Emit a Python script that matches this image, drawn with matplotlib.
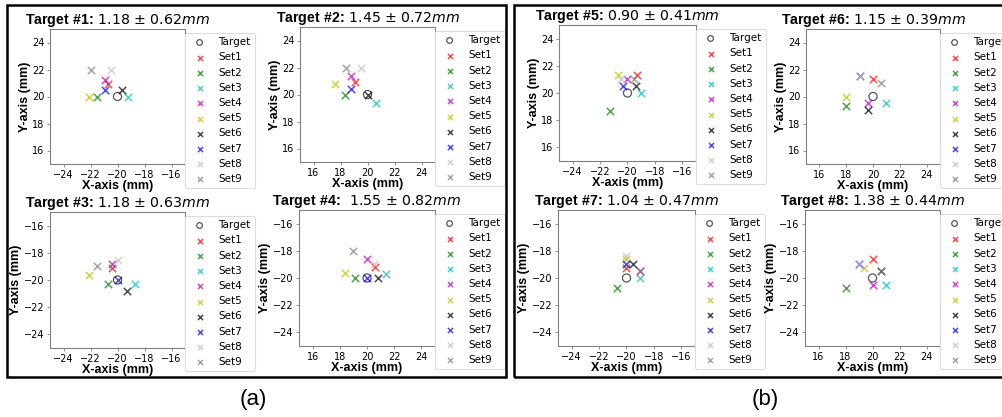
import matplotlib
matplotlib.use('Agg')
import matplotlib.pyplot as plt
from matplotlib.patches import Rectangle

plt.rcParams['font.family'] = 'DejaVu Sans'
plt.rcParams['mathtext.fontset'] = 'custom'
plt.rcParams['mathtext.rm'] = 'DejaVu Sans'
plt.rcParams['mathtext.it'] = 'DejaVu Sans:italic'
plt.rcParams['mathtext.bf'] = 'Liberation Sans:bold'

# measured hit positions per target (Set1..Set9)
set_names = ['Set1', 'Set2', 'Set3', 'Set4', 'Set5', 'Set6', 'Set7', 'Set8', 'Set9']
set_colors = ['r', 'g', 'c', 'm', 'y', 'k', 'b', 'silver', 'gray']

target_x = [-20, 20, -20, 20, -20, 20, -20, 20]
target_y = [20, 20, -20, -20, 20, 20, -20, -20]

t1_x = [-20.7, -21.5, -19.2, -20.9, -22.1, -19.7, -20.9, -20.5, -22.0]
t1_y = [20.9, 20.0, 20.0, 21.2, 20.0, 20.5, 20.5, 22.0, 22.0]
t2_x = [19.1, 18.3, 20.6, 18.8, 17.6, 20.0, 18.8, 19.5, 18.4]
t2_y = [20.9, 20.0, 19.4, 21.4, 20.8, 20.0, 20.4, 22.0, 22.0]
t3_x = [-20.4, -20.7, -18.7, -20.4, -22.1, -19.3, -20.0, -20.0, -21.5]
t3_y = [-19.1, -20.3, -20.3, -18.8, -19.6, -20.8, -20.0, -18.5, -19.0]
t4_x = [20.6, 19.1, 21.4, 20.0, 18.4, 20.8, 20.0, 20.5, 19.0]
t4_y = [-19.2, -20.0, -19.7, -18.6, -19.6, -20.0, -20.0, -19.0, -18.0]
t5_x = [-19.3, -21.3, -19.0, -20.0, -20.7, -19.4, -20.3, -20.5, -19.5]
t5_y = [21.3, 18.7, 20.0, 21.0, 21.3, 20.5, 20.5, 21.0, 21.0]
t6_x = [20.0, 18.0, 21.0, 19.6, 18.0, 19.6, 19.0, 19.0, 20.6]
t6_y = [21.3, 19.3, 19.5, 19.5, 20.0, 19.0, 21.5, 21.5, 21.0]
t7_x = [-20.0, -20.7, -19.0, -19.0, -20.0, -19.5, -20.0, -20.0, -19.0]
t7_y = [-19.3, -20.7, -20.0, -19.5, -18.6, -19.0, -19.0, -18.4, -19.5]
t8_x = [20.0, 18.0, 21.0, 20.0, 19.4, 20.6, 19.0, 19.0, 20.6]
t8_y = [-18.6, -20.7, -20.5, -20.5, -19.3, -19.5, -19.0, -19.0, -19.5]

all_x = [t1_x, t2_x, t3_x, t4_x, t5_x, t6_x, t7_x, t8_x]
all_y = [t1_y, t2_y, t3_y, t4_y, t5_y, t6_y, t7_y, t8_y]

err_mean = ['1.18', '1.45', '1.18', '1.55', '0.90', '1.15', '1.04', '1.38']
err_std = ['0.62', '0.72', '0.63', '0.82', '0.41', '0.39', '0.47', '0.44']

W, H = 1003, 417
fig = plt.figure(figsize=(W / 100, H / 100), dpi=100)

# axes boxes in pixels: left, top, right, bottom
boxes = [(50, 29, 185, 164), (300, 27, 435, 162), (50, 212, 185, 348), (299, 210, 435, 346),
         (559, 25, 696, 161), (806, 29, 940, 164), (558, 210, 695, 346), (805, 210, 940, 346)]

for i in range(8):
    l, t, r, b = boxes[i]
    ax = fig.add_axes([l / W, 1 - b / H, (r - l) / W, (b - t) / H])
    ax.scatter([target_x[i]], [target_y[i]], s=34, marker='o', facecolors='none',
               edgecolors='#555555', linewidths=0.9, label='Target')
    for k in range(9):
        ax.scatter([all_x[i][k]], [all_y[i][k]], s=28, marker='x', color=set_colors[k],
                   alpha=0.7, linewidths=1.1, label=set_names[k])
    cx, cy = target_x[i], target_y[i]
    ax.set_xlim(cx - 5, cx + 5)
    ax.set_ylim(cy - 5, cy + 5)
    ax.set_xticks(range(cx - 4, cx + 5, 2))
    ax.set_yticks(range(cy - 4, cy + 5, 2))
    ax.tick_params(labelsize=7, length=2.5, width=0.6, color='gray', pad=1.5)
    for sp in ax.spines.values():
        sp.set_color('gray')
        sp.set_linewidth(0.8)
    ax.set_xlabel('X-axis (mm)', fontfamily='Liberation Sans', fontweight='bold',
                  fontsize=9, labelpad=0.5)
    ax.set_ylabel('Y-axis (mm)', fontfamily='Liberation Sans', fontweight='bold',
                  fontsize=9, labelpad=1)
    gap = '  ' if i == 3 else ' '
    ax.set_title(r'$\bf{Target\ \#%d\colon}$%s%s $\pm$ %s$mm$' % (i + 1, gap, err_mean[i], err_std[i]),
                 fontsize=10.2, pad=2)
    leg = ax.legend(loc='upper left', bbox_to_anchor=(1.0, 0.97), borderaxespad=0,
                    fontsize=7.5, labelspacing=0.5, markerscale=0.7, framealpha=1,
                    fancybox=True)
    leg.get_frame().set_edgecolor('#dddddd')
    leg.get_frame().set_linewidth(0.8)

# panel frames
fig.add_artist(Rectangle((7 / W, 1 - 377 / H), (506 - 7) / W, (377 - 5) / H, transform=fig.transFigure,
                         fill=False, edgecolor='black', linewidth=1.8, zorder=10))
fig.add_artist(Rectangle((514 / W, 1 - 377 / H), (1012 - 514) / W, (377 - 5) / H, transform=fig.transFigure,
                         fill=False, edgecolor='black', linewidth=1.8, zorder=10))

fig.text(253 / W, 1 - 400 / H, '(a)', ha='center', va='center', fontsize=16, fontfamily='Liberation Sans')
fig.text(765 / W, 1 - 400 / H, '(b)', ha='center', va='center', fontsize=16, fontfamily='Liberation Sans')

fig.savefig('out.png', dpi=100)
